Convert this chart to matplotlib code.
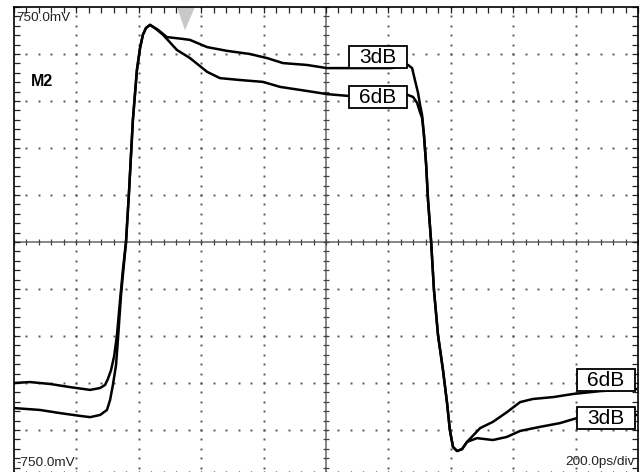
"""
Oscilloscope capture: 3dB vs 6dB de-emphasis eye edge (M2)
Recreated with matplotlib, saved as out.png
"""

import numpy as np
import matplotlib
matplotlib.use('Agg')  # no display
import matplotlib.pyplot as plt
from matplotlib.patches import Rectangle, Polygon

# Screen scale
PS_PER_DIV = 200.0   # 200.0ps/div
MV_PER_DIV = 150.0   # +-750.0mV over 10 divisions

# 3dB trace: time (ps) and level (mV)
t_3db = [0, 83, 147, 212, 244, 276, 298, 308, 317, 327, 333, 343, 353, 359,
         369, 381, 394, 404, 413, 423, 436, 462, 490, 542, 564, 619, 683, 756,
         811, 862, 939, 1003, 1074, 1141, 1205, 1253, 1263, 1276, 1285, 1295,
         1301, 1308, 1314, 1321, 1327, 1337, 1346, 1359, 1375, 1388, 1397, 1407,
         1420, 1436, 1452, 1484, 1535, 1580, 1622, 1686, 1750, 1804, 1878, 1994]
v_3db = [-530, -536, -546, -555, -559, -552, -536, -504, -456, -393, -313, -169,
         -64, 0, 166, 389, 549, 619, 661, 683, 693, 677, 654, 648, 645, 622, 610,
         600, 587, 571, 565, 555, 555, 555, 555, 559, 565, 555, 517, 476, 440, 405,
         341, 246, 134, 0, -153, -297, -409, -514, -600, -654, -667, -661, -638,
         -626, -632, -622, -603, -590, -578, -562, -559, -552]

# 6dB trace: time (ps) and level (mV)
t_6db = [0, 51, 115, 179, 244, 276, 292, 301, 311, 321, 330, 340, 349, 359,
         369, 381, 394, 404, 413, 423, 436, 455, 478, 522, 564, 619, 660, 724,
         798, 853, 939, 1003, 1074, 1141, 1205, 1253, 1263, 1279, 1292, 1301,
         1308, 1314, 1321, 1327, 1337, 1346, 1359, 1375, 1388, 1397, 1407, 1420,
         1436, 1452, 1494, 1535, 1580, 1622, 1663, 1728, 1792, 1878, 1994]
v_6db = [-450, -447, -453, -463, -472, -466, -456, -437, -409, -364, -297, -185,
         -89, 0, 166, 389, 549, 619, 661, 683, 693, 680, 661, 613, 587, 543, 523,
         517, 511, 495, 482, 472, 466, 466, 466, 469, 469, 463, 444, 415, 396, 341,
         246, 134, 0, -153, -297, -409, -514, -600, -654, -667, -661, -638, -594,
         -574, -543, -511, -501, -495, -485, -476, -469]

# Screen annotations
top_label = '750.0mV'
bottom_label = '-750.0mV'
timebase_label = '200.0ps/div'
channel_label = 'M2'

W, H = 640, 472
fig = plt.figure(figsize=(W / 100, H / 100), dpi=100)
fig.patch.set_facecolor('white')

# graticule area: 10 x 10 divisions, bottom edge runs just off the picture
ax = fig.add_axes([14 / W, -5 / H, 624 / W, 470 / H])
x_max = 10 * PS_PER_DIV
y_max = 5 * MV_PER_DIV
ax.set_xlim(0, x_max)
ax.set_ylim(-y_max, y_max)

# frame with inward ticks every 1/5 division
ax.set_xticks(np.arange(0, x_max + 1, PS_PER_DIV / 5))
ax.set_yticks(np.arange(-y_max, y_max + 1, MV_PER_DIV / 5))
ax.tick_params(direction='in', length=4.2, width=0.9, color='#222222',
               top=True, right=True, labelleft=False, labelbottom=False)
for sp in ax.spines.values():
    sp.set_linewidth(1.2)
    sp.set_color('black')

# dotted grid lines (dots at every minor step)
x_minor = np.arange(0, x_max + 1, PS_PER_DIV / 5)
y_minor = np.arange(-y_max, y_max + 1, MV_PER_DIV / 5)
dot_style = dict(linestyle='none', marker='s', ms=1.4, mew=0, color='#555555', zorder=1)
for i in range(1, 10):
    if i == 5:
        continue
    ax.plot(np.full_like(y_minor, i * PS_PER_DIV), y_minor, **dot_style)
for j in range(-4, 5):
    if j == 0:
        continue
    ax.plot(x_minor, np.full_like(x_minor, j * MV_PER_DIV), **dot_style)

# centre cross with small ticks
x_mid = 5 * PS_PER_DIV
ax.axhline(0, color='#666666', lw=1.1, zorder=1)
ax.axvline(x_mid, color='#666666', lw=1.1, zorder=1)
ax.plot(x_minor, np.zeros_like(x_minor), linestyle='none', marker='|', ms=4,
        mew=0.9, color='#444444', zorder=1)
ax.plot(np.full_like(y_minor, x_mid), y_minor, linestyle='none', marker='_', ms=4,
        mew=0.9, color='#444444', zorder=1)

# trigger marker at the top
ax.add_patch(Polygon([[522, y_max], [580, y_max], [548, 676]], closed=True,
                     facecolor='#c8c8c8', edgecolor='none', zorder=2))

# waveforms
ax.plot(t_3db, v_3db, color='black', lw=1.8, solid_joinstyle='round', zorder=3)
ax.plot(t_6db, v_6db, color='black', lw=1.8, solid_joinstyle='round', zorder=3)

# trace labels in white boxes
for name, t0, v0 in [('3dB', 1074, 626), ('6dB', 1074, 498),
                     ('6dB', 1804, -405), ('3dB', 1804, -527)]:
    w, h = 186, 70
    ax.add_patch(Rectangle((t0, v0 - h), w, h, facecolor='white',
                           edgecolor='black', lw=1.3, zorder=4))
    ax.text(t0 + w / 2, v0 - h / 2 - 2, name, ha='center', va='center',
            fontsize=15, family='Liberation Sans', zorder=5)

# screen text
txt = dict(family='Liberation Sans', color='#222222')
fig.text(16 / W, 1 - 18 / H, top_label, ha='left', va='center', fontsize=9.7, **txt)
fig.text(16 / W, 1 - 463 / H, bottom_label, ha='left', va='center', fontsize=9.7, **txt)
fig.text(635 / W, 1 - 462 / H, timebase_label, ha='right', va='center', fontsize=9.7, **txt)
fig.text(31 / W, 1 - 82 / H, channel_label, ha='left', va='center', fontsize=11.5,
         fontweight='bold', family='Liberation Sans', color='black')

fig.savefig('out.png', dpi=100)
plt.close(fig)
